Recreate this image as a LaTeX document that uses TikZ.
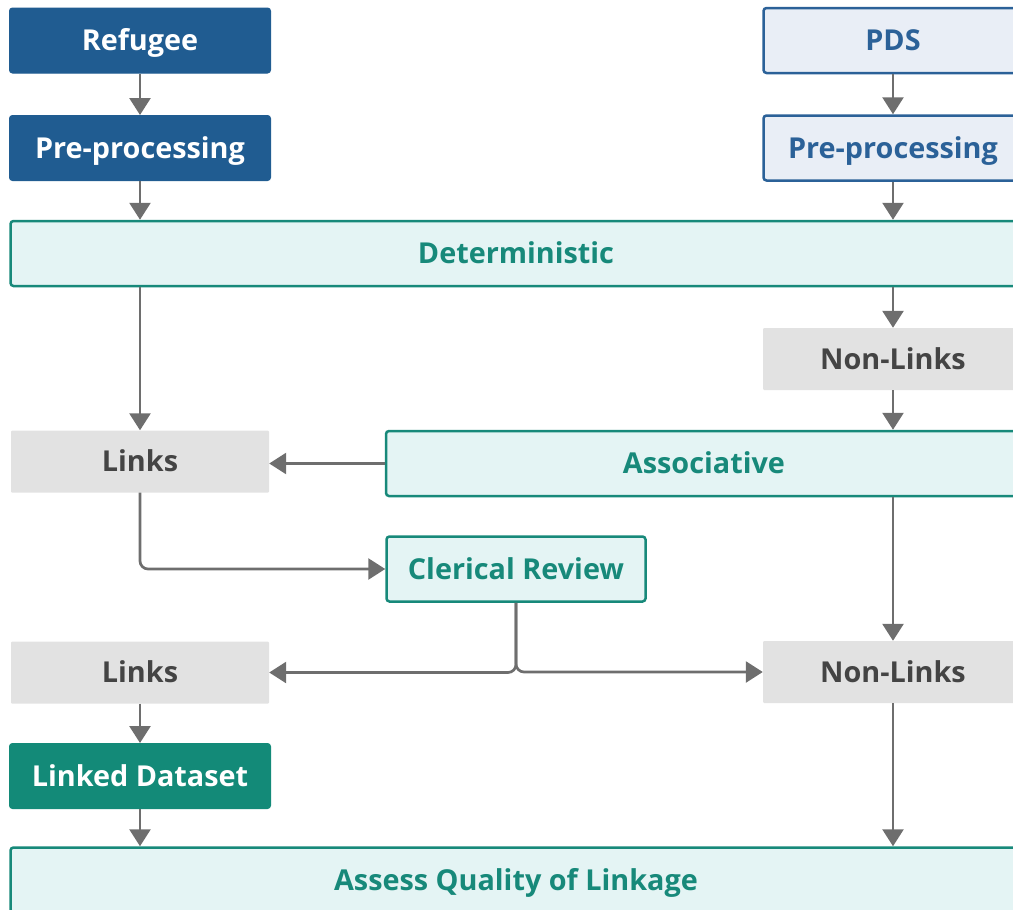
\documentclass[tikz,border=0pt]{standalone}
\usepackage{fontspec}
\setmainfont{Open Sans}
\usetikzlibrary{arrows.meta}
\definecolor{dblue}{HTML}{205C91}
\definecolor{lblue}{HTML}{E9EEF6}
\definecolor{bblue}{HTML}{2B6198}
\definecolor{lteal}{HTML}{E4F4F4}
\definecolor{bteal}{HTML}{17897A}
\definecolor{dteal}{HTML}{138A78}
\definecolor{lgray}{HTML}{E2E2E2}
\definecolor{tgray}{HTML}{444444}
\definecolor{agray}{HTML}{6E6E6E}
\tikzset{
  base/.style={rectangle, rounded corners=3pt, inner sep=0pt, font=\fontsize{28.8}{34}\selectfont\bfseries, text height=20.6pt, text depth=0pt, minimum height=65pt},
  darkbox/.style={base, fill=dblue, draw=dblue, line width=1pt, text=white},
  pdsbox/.style={base, fill=lblue, draw=bblue, line width=2.5pt, text=bblue},
  tealbox/.style={base, fill=lteal, draw=bteal, line width=2.5pt, text=bteal},
  graybox/.style={base, fill=lgray, rounded corners=1pt, text=tgray, minimum height=62pt},
  greenbox/.style={base, fill=dteal, draw=dteal, line width=1pt, text=white},
  arr/.style={draw=agray, line width=2.7pt, -{Triangle[length=17pt,width=21pt]}},
}
\begin{document}
\begin{tikzpicture}[x=1pt,y=-1pt]
\useasboundingbox (0,0) rectangle (1013,910);
\clip (0,0) rectangle (1013,910);
\node[darkbox, minimum width=261] (ref) at (140,40.5) {Refugee};
\node[darkbox, minimum width=261] (pre1) at (140,148) {Pre-processing};
\node[pdsbox, minimum width=259] (pds) at (893,40.5) {PDS};
\node[pdsbox, minimum width=259] (pre2) at (893,148) {Pre-processing};
\node[tealbox, minimum width=1011] (det) at (516,253.5) {Deterministic};
\node[graybox, minimum width=260] (nl1) at (893,359) {Non-Links};
\node[graybox, minimum width=258] (l1) at (140,461.5) {Links};
\node[tealbox, minimum width=636] (assoc) at (704,463.5) {Associative};
\node[tealbox, minimum width=259] (cler) at (516,569) {Clerical Review};
\node[graybox, minimum width=258] (l2) at (140,672.5) {Links};
\node[graybox, minimum width=260] (nl2) at (893,672) {Non-Links};
\node[greenbox, minimum width=261] (ld) at (140,776) {Linked Dataset};
\node[tealbox, minimum width=1011] (aq) at (516,880) {Assess Quality of Linkage};

\draw[arr] (ref) -- (pre1);
\draw[arr] (pre1) -- (pre1 |- det.north);
\draw[arr] (pds) -- (pre2);
\draw[arr] (pre2) -- (pre2 |- det.north);
\draw[arr] (l1 |- det.south) -- (l1);
\draw[arr] (nl1 |- det.south) -- (nl1);
\draw[arr] (nl1) -- (nl1 |- assoc.north);
\draw[arr] (assoc.west) -- (assoc.west -| l1.east);
\draw[arr, rounded corners=8pt] (l1) |- (cler.west);
\draw[arr] (nl2 |- assoc.south) -- (nl2);
\draw[arr, rounded corners=8pt] (cler) |- (l2.east);
\draw[arr, rounded corners=8pt] (cler) |- (nl2.west);
\draw[arr] (l2) -- (ld);
\draw[arr] (ld) -- (ld |- aq.north);
\draw[arr] (nl2) -- (nl2 |- aq.north);
\end{tikzpicture}
\end{document}
